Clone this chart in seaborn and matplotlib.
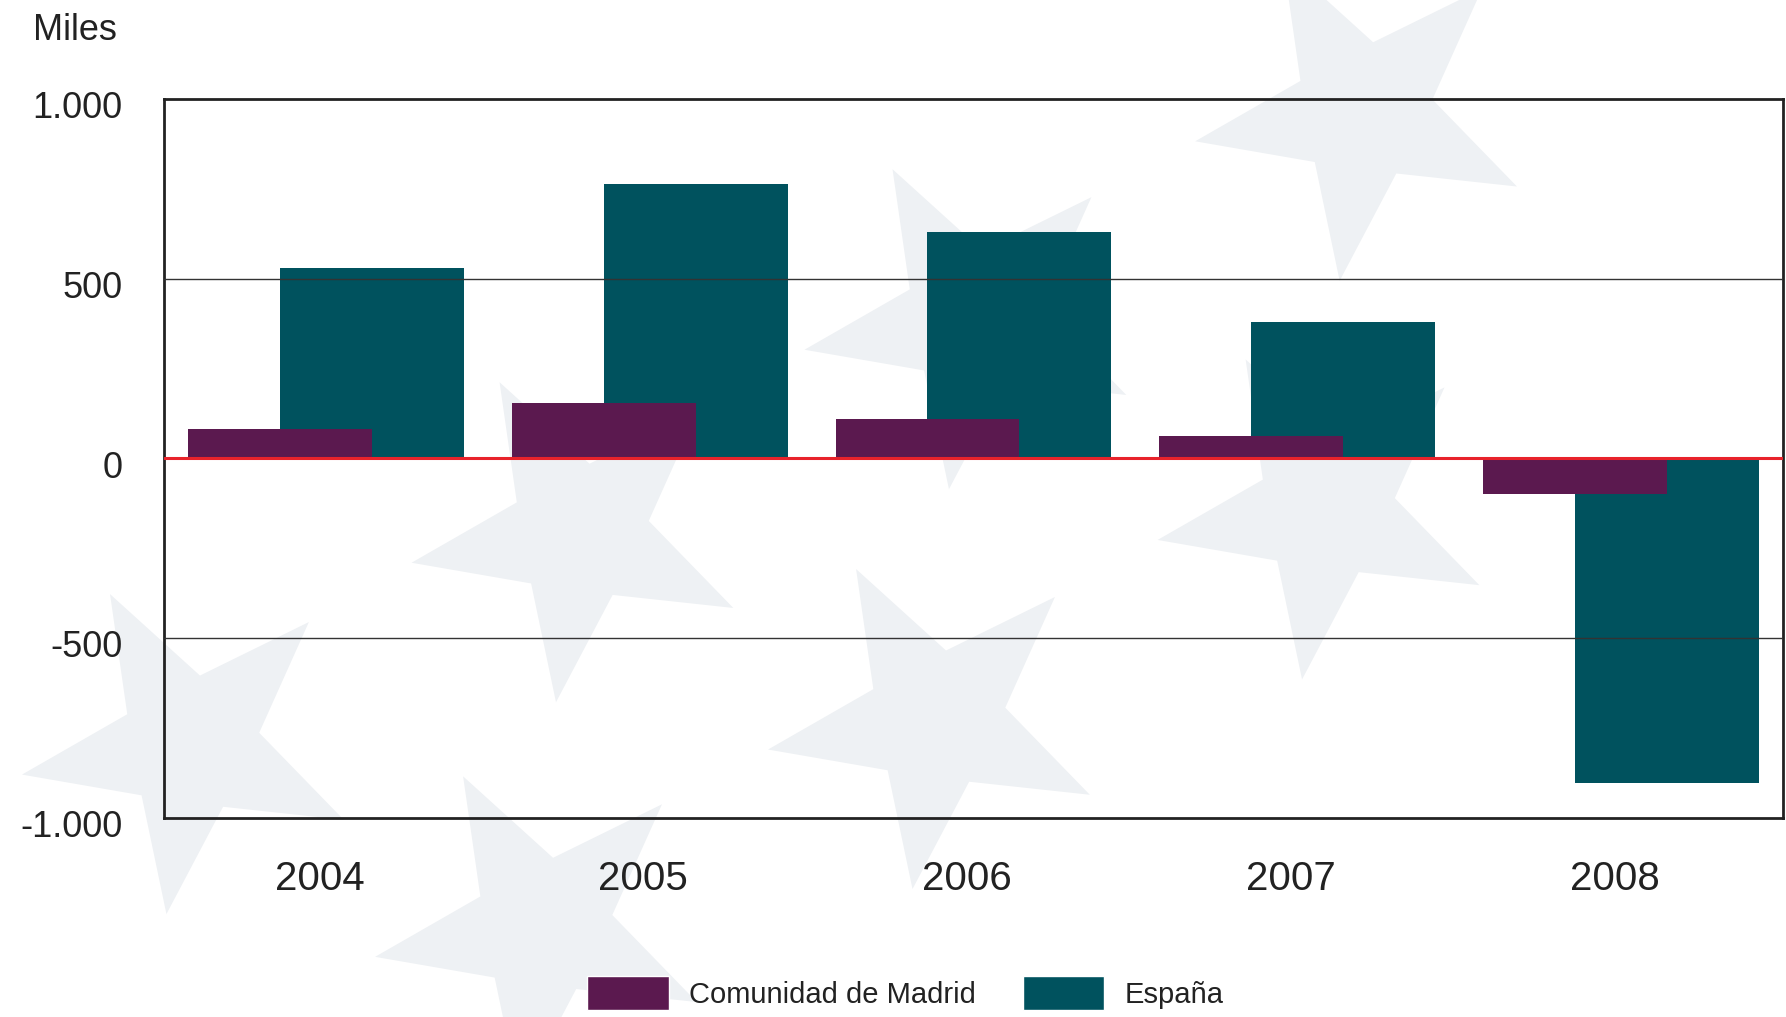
import numpy as np
import pandas as pd
import matplotlib
matplotlib.use('Agg')
from matplotlib import pyplot as plt
from matplotlib.patches import Polygon, Patch
from matplotlib.transforms import ScaledTranslation
import seaborn as sns

# data (miles)
years = ['2004', '2005', '2006', '2007', '2008']
madrid = [83, 155, 111, 62, -100]
espana = [530, 763, 630, 380, -902]
yticks = [-1000, -500, 0, 500, 1000]
ytick_labels = ['-1.000', '-500', '0', '500', '1.000']

c_madrid = '#5B194F'
c_espana = '#00525E'
c_star = '#EEF1F4'

sns.set_theme(style='white')
plt.rcParams['font.family'] = ['Liberation Sans', 'DejaVu Sans']

fig = plt.figure(figsize=(17.86, 10.17), dpi=100)

# background stars (decoration), in figure pixels
bg = fig.add_axes([0, 0, 1, 1], zorder=0)
bg.set_xlim(0, 1786)
bg.set_ylim(1017, 0)
bg.axis('off')

def star(cx, cy, r, rot=118, ratio=0.41):
    pts = []
    for k in range(10):
        a = np.deg2rad(rot + k * 36)
        rr = r if k % 2 == 0 else r * ratio
        pts.append((cx + rr * np.cos(a), cy - rr * np.sin(a)))
    return pts

s = 1786 / 1568
for cx, cy in [(1197, 98), (854, 281), (509, 468), (1164, 448),
               (822, 632), (167, 654), (477, 814)]:
    bg.add_patch(Polygon(star(cx * s, cy * s, 150 * s), closed=True,
                         facecolor=c_star, edgecolor='none'))

ax = fig.add_axes([0.0918, 0.1957, 0.9065, 0.707], zorder=1)
ax.set_facecolor('none')

idx = np.arange(len(years))
df = pd.DataFrame({'pos_m': idx - 0.142, 'pos_e': idx + 0.142,
                   'madrid': madrid, 'espana': espana})

sns.barplot(data=df, x='pos_e', y='espana', native_scale=True, width=0.568,
            color=c_espana, saturation=1, linewidth=0, ax=ax, zorder=2)
sns.barplot(data=df, x='pos_m', y='madrid', native_scale=True, width=0.568,
            color=c_madrid, saturation=1, linewidth=0, ax=ax, zorder=3)

ax.set_xlim(-0.5, len(years) - 0.5)
ax.set_ylim(-1000, 1000)
ax.set_xticks(idx - 0.02)
ax.set_xticklabels(years, fontsize=29, color='#222222')
ax.set_yticks(yticks)
ax.set_yticklabels(ytick_labels, fontsize=26, color='#222222')
ax.tick_params(axis='x', length=0, pad=30)
ax.tick_params(axis='y', length=0, pad=30)
ax.set_xlabel('')
ax.set_ylabel('')
# y labels sit a touch below their gridline in the original
shift = ScaledTranslation(0, -4 / 72, fig.dpi_scale_trans)
for lab in ax.get_yticklabels():
    lab.set_transform(lab.get_transform() + shift)

for v in (500, -500):
    ax.axhline(v, color='#333333', lw=1.0, zorder=5)
ax.axhline(0, color='#E8232B', lw=2.2, zorder=6)

for sp in ax.spines.values():
    sp.set_visible(True)
    sp.set_color('#222222')
    sp.set_linewidth(2)

fig.text(33 / 1786, 1 - 31 / 1017, 'Miles', fontsize=26, color='#222222',
         ha='left', va='center')

handles = [Patch(facecolor=c_madrid, label='Comunidad de Madrid'),
           Patch(facecolor=c_espana, label='España')]
fig.legend(handles=handles, loc='center', bbox_to_anchor=(0.507, 1 - 993 / 1017),
           ncol=2, frameon=False, fontsize=21, handlelength=2.8,
           handleheight=1.45, handletextpad=0.7, columnspacing=1.6,
           labelcolor='#222222')

fig.savefig('out.png', dpi=100)
